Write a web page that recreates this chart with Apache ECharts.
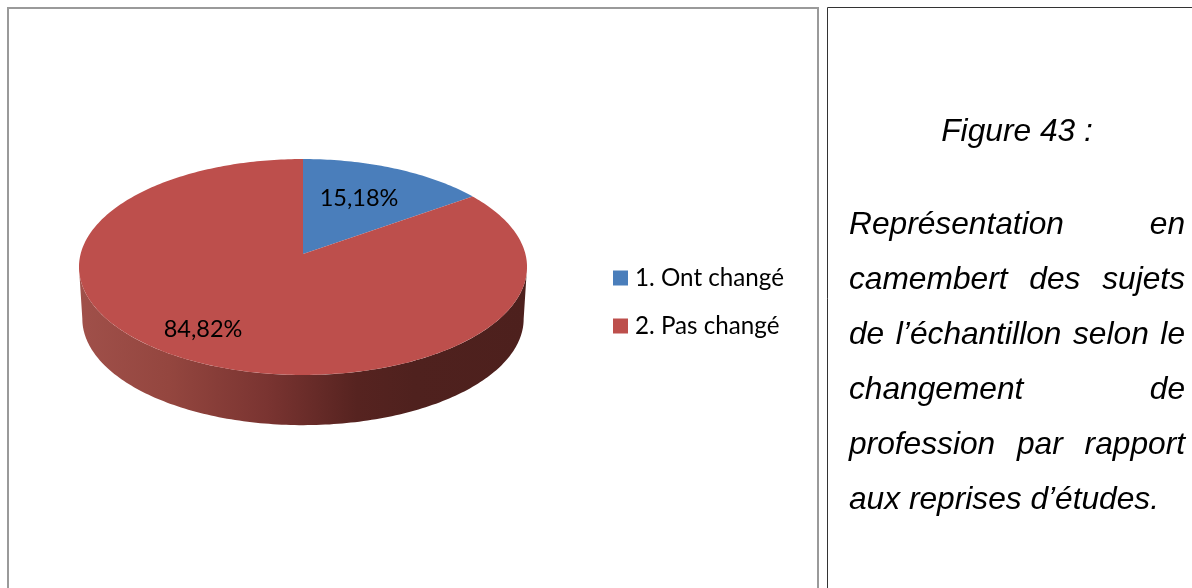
<!DOCTYPE html>
<html>
<head>
<meta charset="utf-8">
<style>html,body{margin:0;padding:0;background:#fff}#c{width:1192px;height:588px}</style>
<script src="https://cdn.jsdelivr.net/npm/echarts@6/dist/echarts.min.js"></script>
</head>
<body>
<div id="c"></div>
<script>
const categories = ['1. Ont changé', '2. Pas changé'];
const values = [15.18, 84.82];
const valueLabels = ['15,18%', '84,82%'];
const colors = ['#4a7ebb', '#bd4f4c'];
const captionTitle = 'Figure 43 :';
const captionLines = [
  ['Représentation', 'en'],
  ['camembert', 'des', 'sujets'],
  ['de', 'l’échantillon', 'selon', 'le'],
  ['changement', 'de'],
  ['profession', 'par', 'rapport'],
  ['aux reprises d’études.']
];

// Projective view of the tilted disc
const CX = 303, CY = 254, K = 0.1204, A = 222.4, B = 106.4;
const labelAnchors = [[359, 198], [203, 329]];
const total = values.reduce((a, b) => a + b, 0);
const topPoint = t => {
  const r = t * Math.PI / 180, d = 1 + K * Math.cos(r);
  return [CX + A * Math.sin(r) / d, CY - B * Math.cos(r) / d];
};
const basePoint = t => {
  const r = t * Math.PI / 180, d = 1 + K * Math.cos(r);
  return [CX + 0.985 * A * Math.sin(r) / d, CY + 52 - 0.985 * B * Math.cos(r) / d];
};
const range = (a, b) => {
  const out = [];
  for (let t = a; t < b; t += 1) out.push(t);
  out.push(b);
  return out;
};
const sideGradient = {
  type: 'linear', x: 0, y: 0, x2: 1, y2: 0,
  colorStops: [
    { offset: 0, color: '#a0504a' },
    { offset: 0.2, color: '#94463f' },
    { offset: 0.42, color: '#7a3431' },
    { offset: 0.62, color: '#562320' },
    { offset: 0.75, color: '#4f211e' },
    { offset: 1, color: '#4d201d' }
  ]
};
const SIDE_FROM = 96.9, SIDE_TO = 263.1;

function makeSeries(i) {
  const start = values.slice(0, i).reduce((a, b) => a + b, 0) / total * 360;
  const end = start + values[i] / total * 360;
  return {
    type: 'custom',
    name: categories[i],
    coordinateSystem: 'none',
    silent: true,
    animation: false,
    itemStyle: { color: colors[i] },
    data: [[values[i]]],
    renderItem: () => {
      const children = [];
      const a = Math.max(start, SIDE_FROM), b = Math.min(end, SIDE_TO);
      if (b > a) {
        const ts = range(a, b);
        children.push({
          type: 'polygon',
          shape: { points: ts.map(topPoint).concat(ts.slice().reverse().map(basePoint)) },
          style: { fill: sideGradient }
        });
      }
      children.push({
        type: 'polygon',
        shape: { points: [[CX, CY]].concat(range(start, end).map(topPoint)) },
        style: { fill: colors[i] }
      });
      children.push({
        type: 'text',
        x: labelAnchors[i][0], y: labelAnchors[i][1],
        style: {
          text: valueLabels[i], fill: '#000', font: '23.5px Lato',
          textAlign: 'center', textVerticalAlign: 'middle'
        }
      });
      return { type: 'group', children };
    }
  };
}

// Caption: justified between the box margins, as in the source document
const CAP_FONT = 'italic 31.7px "Liberation Sans"';
const CAP_L = 849, CAP_R = 1185, CAP_Y0 = 225, CAP_STEP = 55;
const ctx = document.createElement('canvas').getContext('2d');
ctx.font = CAP_FONT;
const capText = (text, x, y, align) => ({
  type: 'text', x, y, silent: true,
  style: { text, font: CAP_FONT, fill: '#000', textAlign: align || 'left', textVerticalAlign: 'middle' }
});
const caption = [capText(captionTitle, 1017, 132, 'center')];
captionLines.forEach((words, li) => {
  const y = CAP_Y0 + li * CAP_STEP;
  if (words.length === 1) { caption.push(capText(words[0], CAP_L, y)); return; }
  const w = words.map(s => ctx.measureText(s).width);
  const gap = (CAP_R - CAP_L - w.reduce((a, b) => a + b, 0)) / (words.length - 1);
  let x = CAP_L;
  words.forEach((s, k) => { caption.push(capText(s, x, y)); x += w[k] + gap; });
});

const chart = echarts.init(document.getElementById('c'), null, { renderer: 'canvas' });
chart.setOption({
  animation: false,
  backgroundColor: '#ffffff',
  legend: {
    orient: 'vertical', left: 613, top: 266, padding: 0,
    itemWidth: 15, itemHeight: 15, itemGap: 24, icon: 'rect',
    selectedMode: false,
    textStyle: { fontFamily: 'Lato', fontSize: 24.2, color: '#000', padding: [0, 0, 0, 2] },
    data: categories
  },
  graphic: [
    { type: 'rect', silent: true, shape: { x: 8, y: 8, width: 810, height: 640 },
      style: { fill: 'none', stroke: '#9a9a9a', lineWidth: 2 } },
    { type: 'rect', silent: true, shape: { x: 827.5, y: 7.5, width: 440, height: 640 },
      style: { fill: 'none', stroke: '#333', lineWidth: 1 } }
  ].concat(caption),
  series: categories.map((_, i) => makeSeries(i))
});
</script>
</body>
</html>
